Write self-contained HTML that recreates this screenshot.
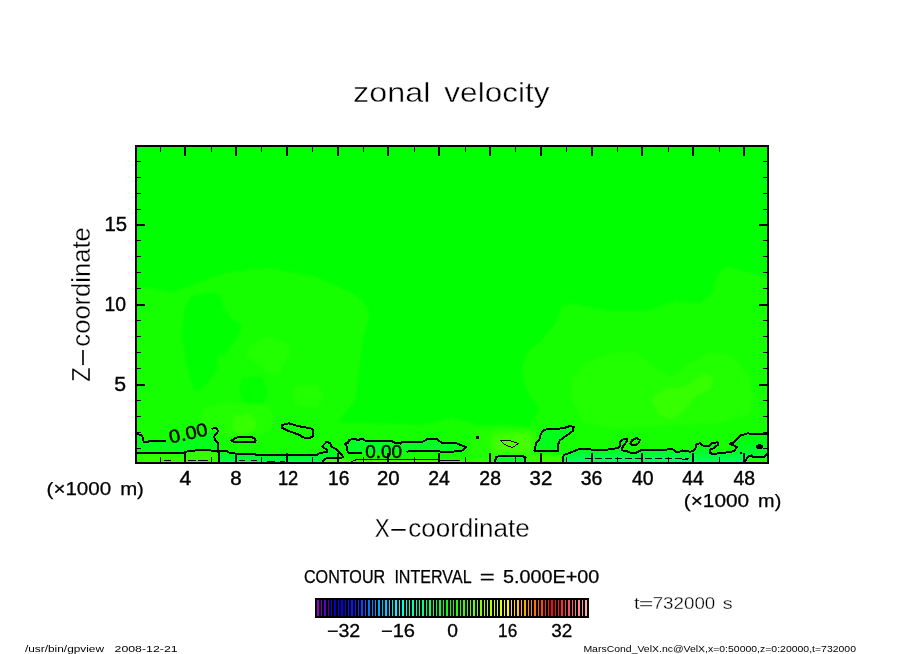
<!DOCTYPE html>
<html lang="en"><head><meta charset="utf-8"><title>zonal velocity</title>
<style>html,body{margin:0;padding:0;background:#fff;overflow:hidden}svg text{font-family:"Liberation Sans", sans-serif;white-space:pre}</style>
</head><body>
<svg width="904" height="654" viewBox="0 0 904 654" style="display:block">
<rect x="0" y="0" width="904" height="654" fill="#fff"/>
<g id="gfx">
<defs><clipPath id="pc"><rect x="136" y="146" width="632" height="317"/></clipPath><filter id="b6" x="-30%" y="-30%" width="160%" height="160%"><feGaussianBlur stdDeviation="6"/></filter><filter id="b3" x="-30%" y="-30%" width="160%" height="160%"><feGaussianBlur stdDeviation="3"/></filter><filter id="b2" x="-30%" y="-30%" width="160%" height="160%"><feGaussianBlur stdDeviation="1.6"/></filter><filter id="b1" x="-30%" y="-30%" width="160%" height="160%"><feGaussianBlur stdDeviation="1.2"/></filter></defs>
<rect x="136" y="146" width="632" height="317" fill="#00ff00"/>
<g clip-path="url(#pc)" id="shade">
<defs><linearGradient id="gn" x1="0" y1="436" x2="0" y2="463" gradientUnits="userSpaceOnUse"><stop offset="0" stop-color="rgb(0,255,4)"/><stop offset="0.6" stop-color="rgb(0,255,40)"/><stop offset="1" stop-color="rgb(0,255,108)"/></linearGradient><linearGradient id="gn2" x1="0" y1="450" x2="0" y2="463" gradientUnits="userSpaceOnUse"><stop offset="0" stop-color="rgb(0,255,16)"/><stop offset="1" stop-color="rgb(0,255,72)"/></linearGradient></defs>
<path d="M130.0,286.0 L150.0,288.0 L171.8,292.5 L200.0,282.0 L226.9,272.4 L268.0,268.0 L315.0,276.5 L336.0,286.0 L352.5,293.0 L367.7,306.8 L369.0,317.8 L362.0,342.6 L358.0,378.4 L355.3,400.4 L344.0,414.0 L336.0,422.4 L424.0,425.0 L451.6,418.0 L479.0,425.0 L528.7,428.0 L539.7,408.7 L526.0,389.4 L521.8,370.0 L526.0,353.6 L539.7,342.6 L556.0,323.0 L561.5,305.4 L572.5,304.0 L611.0,311.0 L647.0,311.0 L674.4,301.3 L699.0,304.0 L710.0,295.8 L718.4,273.8 L726.7,266.9 L775.0,279.0 L775.0,470.0 L130.0,470.0 Z" fill="rgb(18,255,0)" fill-opacity="1" filter="url(#b2)"/>
<path d="M191.0,296.0 L213.0,292.0 L221.0,296.0 L224.0,309.5 L232.0,319.0 L242.0,324.7 L238.0,337.0 L224.0,356.0 L218.6,355.0 L217.0,370.0 L205.0,386.6 L194.0,392.0 L188.0,370.0 L181.4,337.0 L184.0,309.5 Z" fill="rgb(0,255,0)" fill-opacity="1" filter="url(#b2)"/>
<path d="M241.0,378.0 L262.0,376.0 L268.0,392.0 L262.0,406.0 L244.0,404.0 L239.0,390.0 Z" fill="rgb(0,255,0)" fill-opacity="0.8" filter="url(#b2)"/>
<path d="M268.0,337.0 L286.0,342.6 L290.0,351.0 L279.0,374.0 L265.4,370.0 L246.0,355.0 L251.6,345.0 Z" fill="rgb(36,255,0)" fill-opacity="1" filter="url(#b2)"/>
<path d="M295.0,386.0 L318.0,385.0 L323.0,396.0 L318.0,407.0 L297.0,406.0 L293.0,396.0 Z" fill="rgb(36,255,0)" fill-opacity="1" filter="url(#b2)"/>
<path d="M204.0,408.0 L225.0,403.0 L268.0,405.0 L275.0,420.0 L268.0,431.0 L250.0,440.0 L205.0,432.0 L200.0,420.0 Z" fill="rgb(36,255,0)" fill-opacity="1" filter="url(#b2)"/>
<path d="M234.0,416.0 L250.0,414.0 L257.0,422.0 L254.0,432.0 L240.0,436.0 L232.0,428.0 Z" fill="rgb(54,255,0)" fill-opacity="1" filter="url(#b2)"/>
<path d="M572.5,378.4 L583.5,364.6 L611.0,353.6 L635.8,352.2 L658.0,370.0 L671.6,377.0 L688.0,364.6 L710.0,352.2 L732.0,356.4 L748.7,375.6 L754.0,397.7 L748.7,414.0 L721.0,422.4 L666.0,425.0 L611.0,428.0 L583.5,422.4 L572.5,397.7 Z" fill="rgb(36,255,0)" fill-opacity="1" filter="url(#b2)"/>
<path d="M652.4,397.7 L666.0,388.0 L685.4,386.6 L704.7,373.0 L714.3,378.4 L710.0,389.4 L693.7,397.7 L685.4,408.7 L671.6,419.7 L658.0,414.0 L652.4,403.0 Z" fill="rgb(54,255,0)" fill-opacity="1" filter="url(#b2)"/>
<path d="M470.0,432.0 L500.0,426.0 L535.0,430.0 L534.0,456.0 L470.0,456.0 Z" fill="rgb(36,255,0)" fill-opacity="1" filter="url(#b3)"/>
<path d="M493.0,434.0 L532.0,432.0 L534.0,453.0 L493.0,455.0 Z" fill="rgb(72,255,0)" fill-opacity="0.9" filter="url(#b3)"/>
<path d="M136.0,434.0 L140.6,435.7 L144.2,441.9 L166.0,441.0 L190.0,438.0 L212.0,430.0 L217.6,432.0 L214.0,436.5 L217.6,442.7 L218.5,451.6 L213.2,450.7 L204.3,449.8 L186.6,451.6 L181.3,453.4 L136.0,452.5 Z" fill="rgb(0,255,30)" fill-opacity="0.8" filter="url(#b1)"/>
<path d="M218.5,452.0 L227.3,451.0 L229.0,452.5 L235.3,453.6 L317.2,454.2 L321.6,451.6 L327.8,451.0 L326.9,448.0 L323.4,446.3 L326.9,442.2 L331.3,443.6 L332.2,446.3 L336.6,449.8 L340.2,452.5 L342.8,456.9 L341.0,458.0 L326.0,458.0 L323.4,460.4 L322.5,464.0 L218.9,464.0 Z" fill="url(#gn2)" fill-opacity="1" filter="url(#b1)"/>
<path d="M361.4,452.8 L347.6,452.5 L347.3,447.2 L344.6,443.6 L348.1,442.7 L349.0,440.0 L354.3,438.7 L357.9,440.0 L362.3,438.7 L365.8,441.0 L391.5,441.0 L395.0,442.7 L400.4,443.6 L402.1,441.9 L423.4,441.5 L426.9,439.2 L437.0,439.2 L441.5,442.7 L456.5,443.3 L466.3,447.2 L461.9,450.7 L447.7,452.1 L437.5,451.3 Z" fill="rgb(0,255,40)" fill-opacity="0.9" filter="url(#b1)"/>
<path d="M494.6,464.0 L496.4,456.9 L500.8,455.7 L522.0,455.7 L525.6,457.4 L525.2,464.0 Z" fill="rgb(0,255,45)" fill-opacity="0.9" filter="url(#b1)"/>
<path d="M534.4,450.6 L558.3,450.6 L558.3,443.9 L559.8,440.4 L572.8,430.9 L573.8,427.0 L570.3,426.0 L563.8,428.0 L557.8,428.8 L546.9,429.0 L543.4,430.5 L540.9,433.9 L539.4,439.4 L536.4,442.4 Z" fill="rgb(0,255,28)" fill-opacity="0.9" filter="url(#b1)"/>
<path d="M562.7,464.0 L563.6,455.1 L569.8,452.8 L578.7,449.3 L596.0,449.6 L608.0,449.6 L609.5,448.7 L618.0,448.4 L620.4,445.9 L620.4,441.4 L623.9,438.7 L626.7,438.7 L626.9,440.9 L622.4,447.4 L622.1,450.4 L626.4,451.1 L631.4,452.9 L635.9,452.9 L640.8,450.4 L648.8,449.9 L672.7,449.4 L676.2,451.9 L679.7,451.7 L682.7,450.4 L690.0,451.6 L692.0,451.4 L695.0,449.4 L696.5,444.4 L700.4,443.1 L703.9,446.4 L708.4,446.1 L712.9,442.7 L717.9,442.4 L718.4,444.4 L713.4,448.4 L709.9,449.4 L709.9,452.9 L712.4,453.9 L717.9,453.4 L729.8,452.1 L734.3,450.9 L736.8,446.9 L733.8,445.4 L729.8,443.7 L733.8,442.4 L740.8,435.4 L747.3,433.4 L756.2,433.9 L770.0,433.9 L770.0,464.0 Z" fill="url(#gn)" fill-opacity="1" filter="url(#b1)"/>
<path d="M136.0,454.0 L181.0,454.5 L186.6,452.5 L204.0,450.8 L218.0,452.5 L218.0,464.0 L136.0,464.0 Z" fill="rgb(56,255,0)" fill-opacity="0.9" filter="url(#b1)"/>
<path d="M323.5,464.0 L324.5,460.0 L341.0,459.0 L350.8,462.0 L356.1,459.8 L440.0,460.0 L462.0,460.5 L466.0,464.0 Z" fill="rgb(96,255,0)" fill-opacity="0.9" filter="url(#b1)"/>
<path d="M462.0,464.0 L464.0,458.0 L494.0,457.0 L494.0,464.0 Z" fill="rgb(44,255,0)" fill-opacity="0.9" filter="url(#b1)"/>
<path d="M526.0,464.0 L526.0,455.0 L562.0,455.0 L562.0,464.0 Z" fill="rgb(60,255,0)" fill-opacity="0.9" filter="url(#b1)"/>
<path d="M500.8,440.4 L511.4,441.0 L518.5,443.6 L512.3,447.5 L504.3,444.5 Z" fill="rgb(90,255,0)" fill-opacity="0.9"/>
<path d="M746.0,464.0 L749.0,457.5 L751.5,456.5 L754.0,458.5 L764.0,458.5 L769.0,454.0 L769.0,464.0 Z" fill="rgb(40,255,0)" fill-opacity="1" filter="url(#b1)"/>
</g>
<g clip-path="url(#pc)" shape-rendering="crispEdges">
<path d="M136.7,434.4 L140.5,434.6 L142.5,437.0 L143.7,441.6 L148.0,441.8 L149.0,441.0 L165.5,441.0" fill="none" stroke="#000" stroke-width="2" stroke-linejoin="round" stroke-linecap="round"/>
<path d="M212.3,428.6 L215.8,427.7 L217.6,430.0 L217.6,432.1 L214.0,436.5 L215.0,440.0 L217.6,442.7 L218.5,451.6 L218.9,462.0" fill="none" stroke="#000" stroke-width="2" stroke-linejoin="round" stroke-linecap="round"/>
<path d="M136.7,452.5 L140.6,453.4 L181.3,453.4 L186.6,451.6 L195.0,450.5 L204.3,449.8 L213.2,450.7 L218.0,451.6 L227.3,451.0 L229.0,452.5 L235.3,453.5 L254.0,453.5 L256.0,454.8 L317.2,454.8 L320.0,453.0 L327.0,451.9 L327.5,449.9 L324.0,447.9 L322.2,446.4 L326.5,441.9 L330.0,442.9 L331.5,446.9 L336.0,448.9 L341.4,454.4 L342.9,456.8 L341.4,457.8 L327.0,457.8 L324.5,459.3 L322.5,462.0" fill="none" stroke="#000" stroke-width="2" stroke-linejoin="round" stroke-linecap="round"/>
<path d="M231.4,440.4 L234.9,438.4 L239.4,436.6 L250.4,436.6 L254.3,438.4 L255.6,440.4 L255.3,442.2 L234.9,442.2 Z" fill="none" stroke="#000" stroke-width="2" stroke-linejoin="round" stroke-linecap="round"/>
<path d="M281.8,425.0 L288.8,423.3 L297.7,426.0 L311.9,428.6 L313.3,431.2 L312.7,436.5 L309.2,438.3 L303.0,437.4 L299.5,434.8 L288.8,431.2 L281.8,427.7 Z" fill="none" stroke="#000" stroke-width="2" stroke-linejoin="round" stroke-linecap="round"/>
<path d="M361.4,452.8 L347.6,452.5 L347.3,447.2 L344.6,443.6 L348.1,442.7 L349.0,440.0 L354.3,438.7 L357.9,440.0 L362.3,438.7 L365.8,441.0 L391.5,441.0 L395.0,442.7 L400.4,443.6 L402.1,441.9 L423.4,441.5 L426.9,439.2 L437.0,439.2 L441.5,442.7 L456.5,443.3 L466.3,447.2 L461.9,450.7 L447.7,452.1 L437.5,451.3 L411.9,450.7 L407.4,451.6" fill="none" stroke="#000" stroke-width="2" stroke-linejoin="round" stroke-linecap="round"/>
<rect x="476" y="436" width="3" height="3" fill="#000"/>
<path d="M500.8,440.4 L511.4,441.0 L518.5,443.6 L512.3,447.5 L504.3,444.5 Z" fill="none" stroke="#000" stroke-width="1" stroke-linejoin="round" stroke-linecap="round"/>
<path d="M494.6,462.0 L496.4,456.9 L500.8,455.7 L522.0,455.7 L525.6,457.4 L525.2,462.0" fill="none" stroke="#000" stroke-width="2" stroke-linejoin="round" stroke-linecap="round"/>
<path d="M534.4,450.6 L558.3,450.6 L558.3,443.9 L559.8,440.4 L572.8,430.9 L573.8,427.0 L570.3,426.0 L563.8,428.0 L557.8,428.8 L546.9,429.0 L543.4,430.5 L540.9,433.9 L539.4,439.4 L536.4,442.4 Z" fill="none" stroke="#000" stroke-width="2" stroke-linejoin="round" stroke-linecap="round"/>
<path d="M562.7,462.0 L563.6,455.1 L569.8,452.8 L578.7,449.3 L596.0,449.6 L608.0,449.6 L609.5,448.7 L618.0,448.4 L620.4,445.9 L620.4,441.4 L623.9,438.7 L626.7,438.7 L626.9,440.9 L622.4,447.4 L622.1,450.4 L626.4,451.1 L631.4,452.9 L635.9,452.9 L640.8,450.4 L648.8,449.9 L672.7,449.4 L676.2,451.9 L679.7,451.7 L682.7,450.4 L690.0,451.6 L692.0,451.4 L695.0,449.4 L696.5,444.4 L700.4,443.1 L703.9,446.4 L708.4,446.1 L712.9,442.7 L717.9,442.4 L718.4,444.4 L713.4,448.4 L709.9,449.4 L709.9,452.9 L712.4,453.9 L717.9,453.4 L729.8,452.1 L734.3,450.9 L736.8,446.9 L733.8,445.4 L729.8,443.7 L733.8,442.4 L740.8,435.4 L747.3,433.4 L756.2,433.9 L767.6,433.9" fill="none" stroke="#000" stroke-width="2" stroke-linejoin="round" stroke-linecap="round"/>
<path d="M630.4,443.9 L631.9,440.4 L636.4,437.9 L639.8,439.9 L639.3,442.4 L636.4,444.7 L631.9,444.7 Z" fill="none" stroke="#000" stroke-width="2" stroke-linejoin="round" stroke-linecap="round"/>
<ellipse cx="759.5" cy="446.7" rx="3.4" ry="2.4" fill="#000"/>
<rect x="740" y="452" width="2" height="2" fill="#000"/>
<path d="M744.8,461.8 L745.8,459.8 L748.7,456.4 L751.2,455.4 L753.7,457.4 L763.7,457.4 L767.2,453.4" fill="none" stroke="#000" stroke-width="2" stroke-linejoin="round" stroke-linecap="round"/>
<path d="M350.8,462.0 L356.1,459.8 L440.0,460.0 L460.0,460.8" fill="none" stroke="#000" stroke-width="1" stroke-linejoin="round" stroke-linecap="round"/>
<path d="M164.0,460.4 L171.0,460.4" fill="none" stroke="#000" stroke-width="1" stroke-linejoin="round" stroke-linecap="round"/>
<path d="M188.0,460.4 L196.0,460.4" fill="none" stroke="#000" stroke-width="1" stroke-linejoin="round" stroke-linecap="round"/>
<path d="M198.5,460.4 L208.0,460.4" fill="none" stroke="#000" stroke-width="1" stroke-linejoin="round" stroke-linecap="round"/>
<path d="M239.5,460.4 L245.0,460.4" fill="none" stroke="#000" stroke-width="1" stroke-linejoin="round" stroke-linecap="round"/>
<path d="M251.0,460.4 L257.0,460.4" fill="none" stroke="#000" stroke-width="1" stroke-linejoin="round" stroke-linecap="round"/>
<path d="M267.0,461.4 L275.0,461.4" fill="none" stroke="#000" stroke-width="1" stroke-linejoin="round" stroke-linecap="round"/>
<path d="M280.0,461.4 L285.0,461.4" fill="none" stroke="#000" stroke-width="1" stroke-linejoin="round" stroke-linecap="round"/>
<path d="M585.0,458.7 L689.0,458.7" fill="none" stroke="#000" stroke-width="1" stroke-linejoin="round" stroke-linecap="round" stroke-dasharray="7 3"/>
<path d="M682.0,459.2 L688.0,459.2" fill="none" stroke="#000" stroke-width="1" stroke-linejoin="round" stroke-linecap="round"/>
</g>
<g shape-rendering="crispEdges" fill="#000">
<rect x="136" y="146" width="632" height="317" fill="none" stroke="#000" stroke-width="2"/>
<rect x="160" y="147" width="1" height="5"/><rect x="160" y="457" width="1" height="5"/>
<rect x="184" y="147" width="2" height="9"/><rect x="184" y="453" width="2" height="9"/>
<rect x="211" y="147" width="1" height="5"/><rect x="211" y="457" width="1" height="5"/>
<rect x="235" y="147" width="2" height="9"/><rect x="235" y="453" width="2" height="9"/>
<rect x="261" y="147" width="1" height="5"/><rect x="261" y="457" width="1" height="5"/>
<rect x="286" y="147" width="2" height="9"/><rect x="286" y="453" width="2" height="9"/>
<rect x="312" y="147" width="1" height="5"/><rect x="312" y="457" width="1" height="5"/>
<rect x="337" y="147" width="2" height="9"/><rect x="337" y="453" width="2" height="9"/>
<rect x="363" y="147" width="1" height="5"/><rect x="363" y="457" width="1" height="5"/>
<rect x="387" y="147" width="2" height="9"/><rect x="387" y="453" width="2" height="9"/>
<rect x="414" y="147" width="1" height="5"/><rect x="414" y="457" width="1" height="5"/>
<rect x="438" y="147" width="2" height="9"/><rect x="438" y="453" width="2" height="9"/>
<rect x="465" y="147" width="1" height="5"/><rect x="465" y="457" width="1" height="5"/>
<rect x="489" y="147" width="2" height="9"/><rect x="489" y="453" width="2" height="9"/>
<rect x="515" y="147" width="1" height="5"/><rect x="515" y="457" width="1" height="5"/>
<rect x="540" y="147" width="2" height="9"/><rect x="540" y="453" width="2" height="9"/>
<rect x="566" y="147" width="1" height="5"/><rect x="566" y="457" width="1" height="5"/>
<rect x="591" y="147" width="2" height="9"/><rect x="591" y="453" width="2" height="9"/>
<rect x="617" y="147" width="1" height="5"/><rect x="617" y="457" width="1" height="5"/>
<rect x="641" y="147" width="2" height="9"/><rect x="641" y="453" width="2" height="9"/>
<rect x="668" y="147" width="1" height="5"/><rect x="668" y="457" width="1" height="5"/>
<rect x="692" y="147" width="2" height="9"/><rect x="692" y="453" width="2" height="9"/>
<rect x="719" y="147" width="1" height="5"/><rect x="719" y="457" width="1" height="5"/>
<rect x="743" y="147" width="2" height="9"/><rect x="743" y="453" width="2" height="9"/>
<rect x="137" y="448" width="4" height="1"/><rect x="763" y="448" width="4" height="1"/>
<rect x="137" y="432" width="4" height="1"/><rect x="763" y="432" width="4" height="1"/>
<rect x="137" y="416" width="4" height="1"/><rect x="763" y="416" width="4" height="1"/>
<rect x="137" y="400" width="4" height="1"/><rect x="763" y="400" width="4" height="1"/>
<rect x="137" y="384" width="8" height="2"/><rect x="759" y="384" width="8" height="2"/>
<rect x="137" y="368" width="4" height="1"/><rect x="763" y="368" width="4" height="1"/>
<rect x="137" y="352" width="4" height="1"/><rect x="763" y="352" width="4" height="1"/>
<rect x="137" y="336" width="4" height="1"/><rect x="763" y="336" width="4" height="1"/>
<rect x="137" y="320" width="4" height="1"/><rect x="763" y="320" width="4" height="1"/>
<rect x="137" y="304" width="8" height="2"/><rect x="759" y="304" width="8" height="2"/>
<rect x="137" y="288" width="4" height="1"/><rect x="763" y="288" width="4" height="1"/>
<rect x="137" y="272" width="4" height="1"/><rect x="763" y="272" width="4" height="1"/>
<rect x="137" y="256" width="4" height="1"/><rect x="763" y="256" width="4" height="1"/>
<rect x="137" y="240" width="4" height="1"/><rect x="763" y="240" width="4" height="1"/>
<rect x="137" y="224" width="8" height="2"/><rect x="759" y="224" width="8" height="2"/>
<rect x="137" y="209" width="4" height="1"/><rect x="763" y="209" width="4" height="1"/>
<rect x="137" y="193" width="4" height="1"/><rect x="763" y="193" width="4" height="1"/>
<rect x="137" y="177" width="4" height="1"/><rect x="763" y="177" width="4" height="1"/>
<rect x="137" y="161" width="4" height="1"/><rect x="763" y="161" width="4" height="1"/>
</g>
<g shape-rendering="crispEdges">
<rect x="315" y="598" width="274" height="20" fill="#000"/>
<rect x="317" y="600" width="2" height="16" fill="rgb(148,0,200)"/>
<rect x="321" y="600" width="1" height="16" fill="rgb(125,0,200)"/>
<rect x="324" y="600" width="2" height="16" fill="rgb(102,0,200)"/>
<rect x="328" y="600" width="1" height="16" fill="rgb(68,0,200)"/>
<rect x="331" y="600" width="1" height="16" fill="rgb(22,0,200)"/>
<rect x="334" y="600" width="2" height="16" fill="rgb(0,0,209)"/>
<rect x="338" y="600" width="1" height="16" fill="rgb(0,0,228)"/>
<rect x="341" y="600" width="2" height="16" fill="rgb(0,0,246)"/>
<rect x="345" y="600" width="1" height="16" fill="rgb(0,5,255)"/>
<rect x="348" y="600" width="1" height="16" fill="rgb(0,15,255)"/>
<rect x="351" y="600" width="2" height="16" fill="rgb(0,25,255)"/>
<rect x="355" y="600" width="1" height="16" fill="rgb(0,35,255)"/>
<rect x="358" y="600" width="1" height="16" fill="rgb(0,51,255)"/>
<rect x="361" y="600" width="2" height="16" fill="rgb(0,73,255)"/>
<rect x="365" y="600" width="1" height="16" fill="rgb(0,95,255)"/>
<rect x="368" y="600" width="2" height="16" fill="rgb(0,117,255)"/>
<rect x="372" y="600" width="1" height="16" fill="rgb(0,136,255)"/>
<rect x="375" y="600" width="1" height="16" fill="rgb(0,152,255)"/>
<rect x="378" y="600" width="2" height="16" fill="rgb(0,168,255)"/>
<rect x="382" y="600" width="1" height="16" fill="rgb(0,184,255)"/>
<rect x="385" y="600" width="2" height="16" fill="rgb(0,199,255)"/>
<rect x="389" y="600" width="1" height="16" fill="rgb(0,215,255)"/>
<rect x="392" y="600" width="1" height="16" fill="rgb(0,231,255)"/>
<rect x="395" y="600" width="2" height="16" fill="rgb(0,247,255)"/>
<rect x="399" y="600" width="1" height="16" fill="rgb(0,255,247)"/>
<rect x="402" y="600" width="2" height="16" fill="rgb(0,255,231)"/>
<rect x="406" y="600" width="1" height="16" fill="rgb(0,255,215)"/>
<rect x="409" y="600" width="1" height="16" fill="rgb(0,255,199)"/>
<rect x="412" y="600" width="2" height="16" fill="rgb(0,255,184)"/>
<rect x="416" y="600" width="1" height="16" fill="rgb(0,255,168)"/>
<rect x="419" y="600" width="1" height="16" fill="rgb(0,255,152)"/>
<rect x="422" y="600" width="2" height="16" fill="rgb(0,255,136)"/>
<rect x="426" y="600" width="1" height="16" fill="rgb(0,255,120)"/>
<rect x="429" y="600" width="2" height="16" fill="rgb(0,255,104)"/>
<rect x="433" y="600" width="1" height="16" fill="rgb(0,255,88)"/>
<rect x="436" y="600" width="1" height="16" fill="rgb(0,255,72)"/>
<rect x="439" y="600" width="2" height="16" fill="rgb(0,255,56)"/>
<rect x="443" y="600" width="1" height="16" fill="rgb(0,255,40)"/>
<rect x="446" y="600" width="2" height="16" fill="rgb(0,255,24)"/>
<rect x="450" y="600" width="1" height="16" fill="rgb(0,255,8)"/>
<rect x="453" y="600" width="1" height="16" fill="rgb(8,255,0)"/>
<rect x="456" y="600" width="2" height="16" fill="rgb(24,255,0)"/>
<rect x="460" y="600" width="1" height="16" fill="rgb(40,255,0)"/>
<rect x="463" y="600" width="2" height="16" fill="rgb(56,255,0)"/>
<rect x="467" y="600" width="1" height="16" fill="rgb(72,255,0)"/>
<rect x="470" y="600" width="1" height="16" fill="rgb(88,255,0)"/>
<rect x="473" y="600" width="2" height="16" fill="rgb(104,255,0)"/>
<rect x="477" y="600" width="1" height="16" fill="rgb(120,255,0)"/>
<rect x="480" y="600" width="2" height="16" fill="rgb(136,255,0)"/>
<rect x="484" y="600" width="1" height="16" fill="rgb(152,255,0)"/>
<rect x="487" y="600" width="1" height="16" fill="rgb(168,255,0)"/>
<rect x="490" y="600" width="2" height="16" fill="rgb(184,255,0)"/>
<rect x="494" y="600" width="1" height="16" fill="rgb(199,255,0)"/>
<rect x="497" y="600" width="1" height="16" fill="rgb(215,255,0)"/>
<rect x="500" y="600" width="2" height="16" fill="rgb(231,255,0)"/>
<rect x="504" y="600" width="1" height="16" fill="rgb(247,255,0)"/>
<rect x="507" y="600" width="2" height="16" fill="rgb(255,247,0)"/>
<rect x="511" y="600" width="1" height="16" fill="rgb(255,231,0)"/>
<rect x="514" y="600" width="1" height="16" fill="rgb(255,215,0)"/>
<rect x="517" y="600" width="2" height="16" fill="rgb(255,199,0)"/>
<rect x="521" y="600" width="1" height="16" fill="rgb(255,184,0)"/>
<rect x="524" y="600" width="2" height="16" fill="rgb(255,168,0)"/>
<rect x="528" y="600" width="1" height="16" fill="rgb(255,152,0)"/>
<rect x="531" y="600" width="1" height="16" fill="rgb(255,136,0)"/>
<rect x="534" y="600" width="2" height="16" fill="rgb(255,117,0)"/>
<rect x="538" y="600" width="1" height="16" fill="rgb(255,96,0)"/>
<rect x="541" y="600" width="2" height="16" fill="rgb(255,75,0)"/>
<rect x="545" y="600" width="1" height="16" fill="rgb(255,53,0)"/>
<rect x="548" y="600" width="1" height="16" fill="rgb(255,32,0)"/>
<rect x="551" y="600" width="2" height="16" fill="rgb(255,11,0)"/>
<rect x="555" y="600" width="1" height="16" fill="rgb(255,9,9)"/>
<rect x="558" y="600" width="1" height="16" fill="rgb(255,27,27)"/>
<rect x="561" y="600" width="2" height="16" fill="rgb(255,44,44)"/>
<rect x="565" y="600" width="1" height="16" fill="rgb(255,62,62)"/>
<rect x="568" y="600" width="2" height="16" fill="rgb(255,80,80)"/>
<rect x="572" y="600" width="1" height="16" fill="rgb(255,98,98)"/>
<rect x="575" y="600" width="1" height="16" fill="rgb(255,116,116)"/>
<rect x="578" y="600" width="2" height="16" fill="rgb(255,134,134)"/>
<rect x="582" y="600" width="1" height="16" fill="rgb(255,151,151)"/>
<rect x="585" y="600" width="2" height="16" fill="rgb(255,169,169)"/>
</g>
</g>
<g id="txt" font-family='"Liberation Sans", sans-serif' fill="#000">
<text y="102.1"><tspan id="t1" x="353.13" textLength="77.23" lengthAdjust="spacingAndGlyphs" font-size="28" stroke="#fff" stroke-width="0.4">zonal</tspan> <tspan id="t2" x="444.39" textLength="105.03" lengthAdjust="spacingAndGlyphs" font-size="28" stroke="#fff" stroke-width="0.4">velocity</tspan></text>
<text y="537.1"><tspan id="t3" x="374.80" textLength="14.93" lengthAdjust="spacingAndGlyphs" font-size="25" stroke="#fff" stroke-width="0.3">X</tspan><tspan id="t4" x="388.27" textLength="20.45" lengthAdjust="spacingAndGlyphs" font-size="25" stroke="#fff" stroke-width="0.3">-</tspan><tspan id="t5" x="408.17" textLength="121.67" lengthAdjust="spacingAndGlyphs" font-size="25" stroke="#fff" stroke-width="0.3">coordinate</tspan></text>
<text y="0.0" transform="translate(90.4 380.4) rotate(-90)"><tspan id="t6" x="-1.30" textLength="14.45" lengthAdjust="spacingAndGlyphs" font-size="25" stroke="#fff" stroke-width="0.3">Z</tspan><tspan id="t7" x="11.86" textLength="21.92" lengthAdjust="spacingAndGlyphs" font-size="25" stroke="#fff" stroke-width="0.3">-</tspan><tspan id="t8" x="33.78" textLength="119.44" lengthAdjust="spacingAndGlyphs" font-size="25" stroke="#fff" stroke-width="0.3">coordinate</tspan></text>
<text y="230.9"><tspan id="t9" x="104.46" textLength="22.61" lengthAdjust="spacingAndGlyphs" font-size="20" stroke="#000" stroke-width="0.4">15</tspan></text>
<text y="310.9"><tspan id="t10" x="104.52" textLength="21.53" lengthAdjust="spacingAndGlyphs" font-size="20" stroke="#000" stroke-width="0.4">10</tspan></text>
<text y="390.9"><tspan id="t11" x="114.37" textLength="11.82" lengthAdjust="spacingAndGlyphs" font-size="20" stroke="#000" stroke-width="0.4">5</tspan></text>
<text y="485.0"><tspan id="t12" x="179.59" textLength="11.82" lengthAdjust="spacingAndGlyphs" font-size="19.5" stroke="#000" stroke-width="0.4">4</tspan> <tspan id="t13" x="230.34" textLength="11.37" lengthAdjust="spacingAndGlyphs" font-size="19.5" stroke="#000" stroke-width="0.4">8</tspan> <tspan id="t14" x="277.92" textLength="20.36" lengthAdjust="spacingAndGlyphs" font-size="19.5" stroke="#000" stroke-width="0.4">12</tspan> <tspan id="t15" x="328.11" textLength="21.35" lengthAdjust="spacingAndGlyphs" font-size="19.5" stroke="#000" stroke-width="0.4">16</tspan> <tspan id="t16" x="376.91" textLength="22.71" lengthAdjust="spacingAndGlyphs" font-size="19.5" stroke="#000" stroke-width="0.4">20</tspan> <tspan id="t17" x="428.19" textLength="21.63" lengthAdjust="spacingAndGlyphs" font-size="19.5" stroke="#000" stroke-width="0.4">24</tspan> <tspan id="t18" x="479.36" textLength="21.68" lengthAdjust="spacingAndGlyphs" font-size="19.5" stroke="#000" stroke-width="0.4">28</tspan> <tspan id="t19" x="529.54" textLength="22.71" lengthAdjust="spacingAndGlyphs" font-size="19.5" stroke="#000" stroke-width="0.4">32</tspan> <tspan id="t20" x="580.77" textLength="21.63" lengthAdjust="spacingAndGlyphs" font-size="19.5" stroke="#000" stroke-width="0.4">36</tspan> <tspan id="t21" x="632.00" textLength="21.63" lengthAdjust="spacingAndGlyphs" font-size="19.5" stroke="#000" stroke-width="0.4">40</tspan> <tspan id="t22" x="682.19" textLength="21.63" lengthAdjust="spacingAndGlyphs" font-size="19.5" stroke="#000" stroke-width="0.4">44</tspan> <tspan id="t23" x="733.38" textLength="21.63" lengthAdjust="spacingAndGlyphs" font-size="19.5" stroke="#000" stroke-width="0.4">48</tspan></text>
<text y="495.1"><tspan id="t24" x="46.56" textLength="64.66" lengthAdjust="spacingAndGlyphs" font-size="17.8" stroke="#000" stroke-width="0.25">(×1000</tspan> <tspan id="t25" x="120.15" textLength="23.76" lengthAdjust="spacingAndGlyphs" font-size="17.8" stroke="#000" stroke-width="0.25">m)</tspan></text>
<text y="506.8"><tspan id="t26" x="683.76" textLength="65.45" lengthAdjust="spacingAndGlyphs" font-size="17.8" stroke="#000" stroke-width="0.25">(×1000</tspan> <tspan id="t27" x="758.14" textLength="23.13" lengthAdjust="spacingAndGlyphs" font-size="17.8" stroke="#000" stroke-width="0.25">m)</tspan></text>
<text y="582.7"><tspan id="t28" x="303.97" textLength="81.26" lengthAdjust="spacingAndGlyphs" font-size="18.6" stroke="#000" stroke-width="0.25">CONTOUR</tspan> <tspan id="t29" x="394.38" textLength="77.22" lengthAdjust="spacingAndGlyphs" font-size="18.6" stroke="#000" stroke-width="0.25">INTERVAL</tspan> <tspan id="t30" x="479.80" textLength="14.93" lengthAdjust="spacingAndGlyphs" font-size="18.6" stroke="#000" stroke-width="0.25">=</tspan> <tspan id="t31" x="502.98" textLength="96.23" lengthAdjust="spacingAndGlyphs" font-size="18.6" stroke="#000" stroke-width="0.25">5.000E+00</tspan></text>
<text y="636.6"><tspan id="t32" x="326.94" textLength="33.29" lengthAdjust="spacingAndGlyphs" font-size="17.8" stroke="#000" stroke-width="0.3">−32</tspan> <tspan id="t33" x="380.93" textLength="34.13" lengthAdjust="spacingAndGlyphs" font-size="17.8" stroke="#000" stroke-width="0.3">−16</tspan> <tspan id="t34" x="447.15" textLength="10.71" lengthAdjust="spacingAndGlyphs" font-size="17.8" stroke="#000" stroke-width="0.3">0</tspan> <tspan id="t35" x="498.11" textLength="19.16" lengthAdjust="spacingAndGlyphs" font-size="17.8" stroke="#000" stroke-width="0.3">16</tspan> <tspan id="t36" x="551.16" textLength="21.05" lengthAdjust="spacingAndGlyphs" font-size="17.8" stroke="#000" stroke-width="0.3">32</tspan></text>
<text y="608.7"><tspan id="t37" x="633.94" textLength="5.49" lengthAdjust="spacingAndGlyphs" font-size="16.7" stroke="#fff" stroke-width="0.3">t</tspan><tspan id="t38" x="638.69" textLength="14.62" lengthAdjust="spacingAndGlyphs" font-size="16.7" stroke="#fff" stroke-width="0.3">=</tspan><tspan id="t39" x="652.71" textLength="62.53" lengthAdjust="spacingAndGlyphs" font-size="16.7" stroke="#fff" stroke-width="0.3">732000</tspan> <tspan id="t40" x="722.81" textLength="9.94" lengthAdjust="spacingAndGlyphs" font-size="16.7" stroke="#fff" stroke-width="0.3">s</tspan></text>
<text y="651.8"><tspan id="t41" x="24.99" textLength="79.03" lengthAdjust="spacingAndGlyphs" font-size="9">/usr/bin/gpview</tspan>  <tspan id="t42" x="114.57" textLength="63.04" lengthAdjust="spacingAndGlyphs" font-size="9">2008-12-21</tspan></text>
<text y="651.8"><tspan id="t43" x="583.40" textLength="272.60" lengthAdjust="spacingAndGlyphs" font-size="9">MarsCond_VelX.nc@VelX,x=0:50000,z=0:20000,t=732000</tspan></text>
<text y="0.0" transform="translate(170.6 443.6) rotate(-12.5)"><tspan id="t44" x="0.00" textLength="39.00" lengthAdjust="spacingAndGlyphs" font-size="18.5" stroke="#000" stroke-width="0.45">0.00</tspan></text>
<text y="458.3"><tspan id="t45" x="365.19" textLength="36.81" lengthAdjust="spacingAndGlyphs" font-size="19" stroke="#000" stroke-width="0.45">0.00</tspan></text>
</g>
</svg>
</body></html>
